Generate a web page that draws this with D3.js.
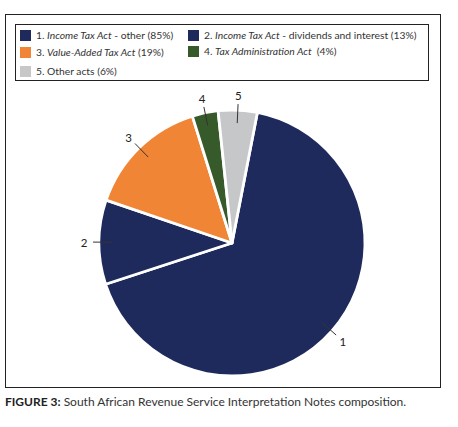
<!DOCTYPE html>
<html>
<head>
<meta charset="utf-8">
<script src="https://cdn.jsdelivr.net/npm/d3@7"></script>
<style>
  body { margin: 0; background: #fff; }
  svg { display: block; font-family: "Lato", "Open Sans", sans-serif; }
</style>
</head>
<body>
<svg id="chart" width="458" height="427"></svg>
<script>
"use strict"

// Data (percent values as printed in the legend)
const ids = ["1", "2", "3", "4", "5"]
const values = [85, 13, 19, 4, 6]
const colours = ["#1f2a5c", "#1f2a5c", "#f08536", "#375a2b", "#c6c7c9"]
// Legend labels: [number, italic part, rest]
const legendPre = ["1. ", "2. ", "3. ", "4. ", "5. "]
const legendItalic = ["Income Tax Act", "Income Tax Act", "Value-Added Tax Act", "Tax Administration Act", ""]
const legendRest = [" - other (85%)", " - dividends and interest (13%)", " (19%)", "  (4%)", "Other acts (6%)"]

const svg = d3.select("#chart")

// Outer frame
svg.append("rect")
    .attr("x", 5.5).attr("y", 14.5)
    .attr("width", 435).attr("height", 373)
    .attr("fill", "none").attr("stroke", "#222").attr("stroke-width", 1)

// Legend box
svg.append("rect")
    .attr("x", 15.5).attr("y", 24.5)
    .attr("width", 413).attr("height", 56)
    .attr("fill", "none").attr("stroke", "#222").attr("stroke-width", 1)

const legendPos = [[20, 30], [188, 30], [20, 47], [188, 46], [20, 66]]

const items = svg.append("g").selectAll("g")
    .data(ids)
    .join("g")
    .attr("transform", (d, i) => `translate(${legendPos[i][0]},${legendPos[i][1]})`)

items.append("rect")
    .attr("width", 11).attr("height", 11)
    .attr("fill", (d, i) => colours[i])

const legendText = items.append("text")
    .attr("x", 16).attr("y", 9.3)
    .attr("font-size", 10.3)
    .attr("fill", "#333")
legendText.append("tspan").text((d, i) => legendPre[i])
legendText.append("tspan").attr("font-style", "italic").text((d, i) => legendItalic[i])
legendText.append("tspan").style("white-space", "pre").text((d, i) => legendRest[i])

// Pie
const cx = 232, cy = 243, R = 133
const startDeg = 11

const pie = d3.pie()
    .sort(null)
    .value(d => d)
    .startAngle(startDeg * Math.PI / 180)
    .endAngle((startDeg + 360) * Math.PI / 180)

const arcs = pie(values)
const arc = d3.arc().innerRadius(0).outerRadius(R)

const g = svg.append("g").attr("transform", `translate(${cx},${cy})`)

g.selectAll("path")
    .data(arcs)
    .join("path")
    .attr("d", arc)
    .attr("fill", (d, i) => colours[i])
    .attr("stroke", "#fff")
    .attr("stroke-width", 2.8)
    .attr("stroke-linejoin", "round")

// Leader lines and numeric labels
const pt = (a, r) => [Math.sin(a) * r, -Math.cos(a) * r]
const mid = d => (d.startAngle + d.endAngle) / 2

g.selectAll("line.leader")
    .data(arcs)
    .join("line")
    .attr("class", "leader")
    .attr("x1", d => pt(mid(d), 120)[0])
    .attr("y1", d => pt(mid(d), 120)[1])
    .attr("x2", d => pt(mid(d), 139)[0])
    .attr("y2", d => pt(mid(d), 139)[1])
    .attr("stroke", "#333")
    .attr("stroke-width", 1)

g.selectAll("text.num")
    .data(arcs)
    .join("text")
    .attr("class", "num")
    .attr("x", d => pt(mid(d), 148)[0])
    .attr("y", d => pt(mid(d), 148)[1])
    .attr("text-anchor", "middle")
    .attr("dominant-baseline", "central")
    .attr("font-size", 11.5)
    .attr("fill", "#222")
    .text((d, i) => ids[i])

// Caption
const cap = svg.append("text")
    .attr("x", 5).attr("y", 406)
    .attr("font-size", 12)
    .attr("fill", "#333")
cap.append("tspan").attr("font-weight", "bold").attr("fill", "#222").text("FIGURE 3:")
cap.append("tspan").text(" South African Revenue Service Interpretation Notes composition.")
</script>
</body>
</html>
